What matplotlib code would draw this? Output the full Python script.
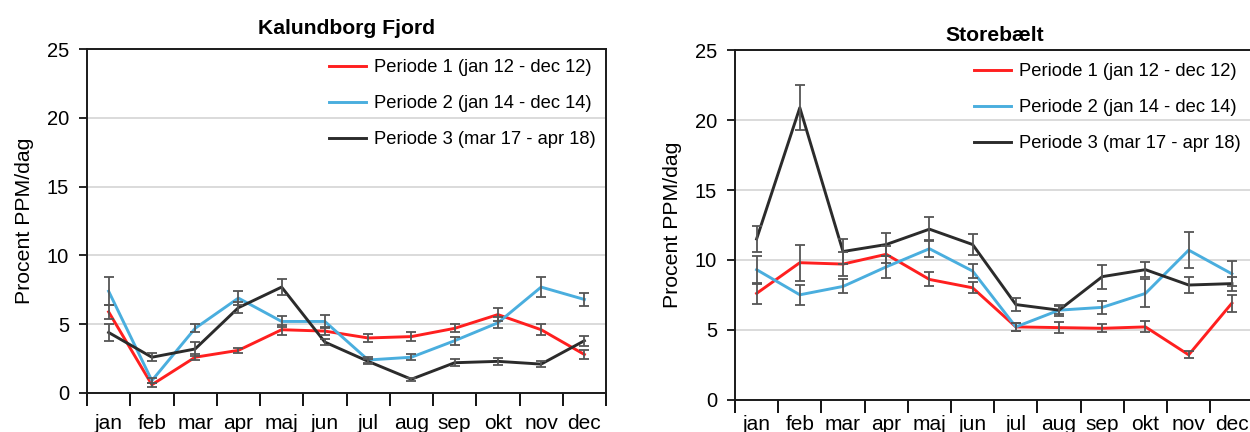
import matplotlib
matplotlib.use("Agg")
import matplotlib.pyplot as plt
import numpy as np

plt.rcParams["font.family"] = ["Liberation Sans", "DejaVu Sans"]

months = ["jan", "feb", "mar", "apr", "maj", "jun", "jul", "aug", "sep", "okt", "nov", "dec"]
series_labels = ["Periode 1 (jan 12 - dec 12)",
                 "Periode 2 (jan 14 - dec 14)",
                 "Periode 3 (mar 17 - apr 18)"]

# Kalundborg Fjord
kal_p1 = [5.9, 0.6, 2.6, 3.1, 4.6, 4.5, 4.0, 4.1, 4.7, 5.7, 4.6, 2.8]
kal_p1_err = [0.5, 0.15, 0.2, 0.2, 0.35, 0.3, 0.3, 0.35, 0.3, 0.5, 0.4, 0.3]
kal_p2 = [7.4, 0.9, 4.7, 6.9, 5.2, 5.2, 2.4, 2.6, 3.8, 5.1, 7.7, 6.8]
kal_p2_err = [1.0, 0.2, 0.3, 0.5, 0.4, 0.5, 0.2, 0.2, 0.3, 0.4, 0.7, 0.5]
kal_p3 = [4.4, 2.6, 3.2, 6.2, 7.7, 3.7, 2.3, 1.0, 2.2, 2.3, 2.1, 3.8]
kal_p3_err = [0.6, 0.3, 0.5, 0.4, 0.6, 0.2, 0.2, 0.1, 0.25, 0.25, 0.2, 0.35]

# Storebælt
sb_p1 = [7.6, 9.8, 9.7, 10.4, 8.6, 8.0, 5.2, 5.15, 5.1, 5.2, 3.2, 6.9]
sb_p1_err = [0.75, 1.3, 0.85, 0.6, 0.5, 0.4, 0.3, 0.4, 0.3, 0.4, 0.25, 0.6]
sb_p2 = [9.3, 7.5, 8.1, 9.5, 10.8, 9.2, 5.2, 6.4, 6.6, 7.6, 10.7, 9.0]
sb_p2_err = [1.0, 0.7, 0.5, 0.8, 0.6, 0.5, 0.3, 0.3, 0.45, 1.0, 1.3, 0.9]
sb_p3 = [11.5, 20.9, 10.6, 11.1, 12.2, 11.1, 6.8, 6.4, 8.8, 9.3, 8.2, 8.3]
sb_p3_err = [0.95, 1.6, 0.9, 0.8, 0.85, 0.75, 0.45, 0.4, 0.85, 0.55, 0.55, 0.5]

colors = ["#ff1f1f", "#4aaede", "#2b2b2b"]
err_color = "#555555"

fig = plt.figure(figsize=(12.5, 4.32), dpi=100)
ax1 = fig.add_axes([0.0696, 0.0903, 0.4152, 0.796])
ax2 = fig.add_axes([0.588, 0.0752, 0.4148, 0.808])


def draw_panel(ax, title, values, errors, title_pad, xlabel_pad, legend_pad):
    x = np.arange(len(months))
    handles = []
    for vals, errs, col, lab in zip(values, errors, colors, series_labels):
        (ln,) = ax.plot(x, vals, color=col, lw=2.1, label=lab, zorder=3)
        ax.errorbar(x, vals, yerr=errs, fmt="none", ecolor=err_color,
                    elinewidth=1.3, capsize=3.5, capthick=1.3, zorder=4)
        handles.append(ln)
    ax.set_xlim(-0.5, len(months) - 0.5)
    ax.set_ylim(0, 25)
    ax.set_yticks([0, 5, 10, 15, 20, 25])
    ax.yaxis.grid(True, color="#d4d4d4", lw=1.2)
    ax.set_axisbelow(True)
    # boundary ticks between months, labels centred on each month
    ax.set_xticks(np.arange(-0.5, len(months) + 0.5, 1.0))
    ax.set_xticklabels([])
    ax.set_xticks(x, minor=True)
    ax.set_xticklabels(months, minor=True)
    ax.tick_params(axis="x", which="major", direction="out", length=9, width=1.3)
    ax.tick_params(axis="x", which="minor", length=0, pad=xlabel_pad, labelsize=15)
    ax.tick_params(axis="y", direction="out", length=6, width=1.2, labelsize=14.5, pad=7)
    for sp in ax.spines.values():
        sp.set_linewidth(1.4)
        sp.set_color("#1a1a1a")
    ax.set_ylabel("Procent PPM/dag", fontsize=15.3, labelpad=9)
    ax.set_title(title, fontsize=15.2, fontweight="bold", pad=title_pad)
    ax.legend(handles=handles, loc="upper right", frameon=False, fontsize=13.2,
              handlelength=2.0, handletextpad=0.45, labelspacing=1.03,
              borderaxespad=legend_pad)


draw_panel(ax1, "Kalundborg Fjord", [kal_p1, kal_p2, kal_p3],
           [kal_p1_err, kal_p2_err, kal_p3_err],
           title_pad=11, xlabel_pad=15, legend_pad=0.15)
draw_panel(ax2, "Storebælt", [sb_p1, sb_p2, sb_p3],
           [sb_p1_err, sb_p2_err, sb_p3_err],
           title_pad=7, xlabel_pad=11, legend_pad=0.3)

fig.savefig("out.png", dpi=100)
